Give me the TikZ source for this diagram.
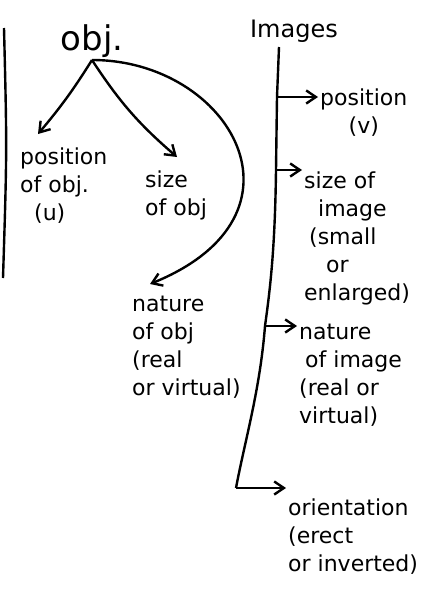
\documentclass[tikz,border=0pt]{standalone}
\usepackage{fontspec}
\setmainfont{DejaVu Sans}
\usetikzlibrary{arrows.meta,positioning,calc}

\begin{document}
\begin{tikzpicture}[x=1pt,y=-1pt,line width=2.4pt,
      ar/.style={-{Straight Barb[length=3.4mm,width=4.6mm]}},
      hd/.style={inner sep=1pt,font=\fontsize{34}{36}\selectfont},
      lbl/.style={anchor=north west,align=left,inner sep=1pt,
                  font=\fontsize{22}{28}\selectfont}]
    \useasboundingbox (0,0) rectangle (429,605);

    % ================= object side =================
    \draw (4,28) .. controls (7,150) .. (3,278);

    \node[hd,anchor=south] (obj) at (92,60) {obj.};

    \node[lbl] (pobj) at (18,146) {position\\of obj.\\\ \ (u)};
    \node[lbl] (sobj) at (143,169) {size\\of obj};
    \node[lbl] (nobj) at (130,294) {nature\\of obj\\(real\\or virtual)};

    \draw[ar] (obj.south) to[bend left=4] ($(pobj.north west)+(20,-12)$);
    \draw[ar] (obj.south) to[bend right=8] ($(sobj.north west)+(34,-12)$);
    \draw[ar] (obj.south) .. controls (230,60) and (320,215)
      .. ($(nobj.north west)+(20,-10)$);

    % ================= image side =================
    \node[hd,anchor=south,font=\fontsize{24}{26}\selectfont] (img) at (294,45) {Images};

    \node[lbl,align=center] (pimg) at (318,87) {position\\(v)};
    \node[lbl] (simg) at (302,170)
      {size of\\\hspace*{14pt}image\\\hspace*{5pt}(small\\\hspace*{22pt}or\\enlarged)};
    \node[lbl] (nimg) at (297,322) {nature\\\hspace*{6pt}of image\\(real or\\virtual)};
    \node[lbl] (oimg) at (286,497) {orientation\\(erect\\or inverted)};

    % trunk and branches
    \coordinate (t0) at (279,47);
    \coordinate (t1) at (277,97);
    \coordinate (t2) at (276,170);
    \coordinate (t3) at (265,326);
    \coordinate (t4) at (236,488);
    \draw (t0) -- (t1) -- (t2) .. controls (275,250) and (270,290) .. (t3)
      .. controls (260,390) and (245,440) .. (t4);

    \draw[ar] (t1) -- (t1 -| pimg.west);
    \draw[ar] (t2) -- (t2 -| simg.west);
    \draw[ar] (t3) -- (t3 -| nimg.west);
    \draw[ar] (t4) -- (t4 -| oimg.west);
  \end{tikzpicture}
\end{document}
